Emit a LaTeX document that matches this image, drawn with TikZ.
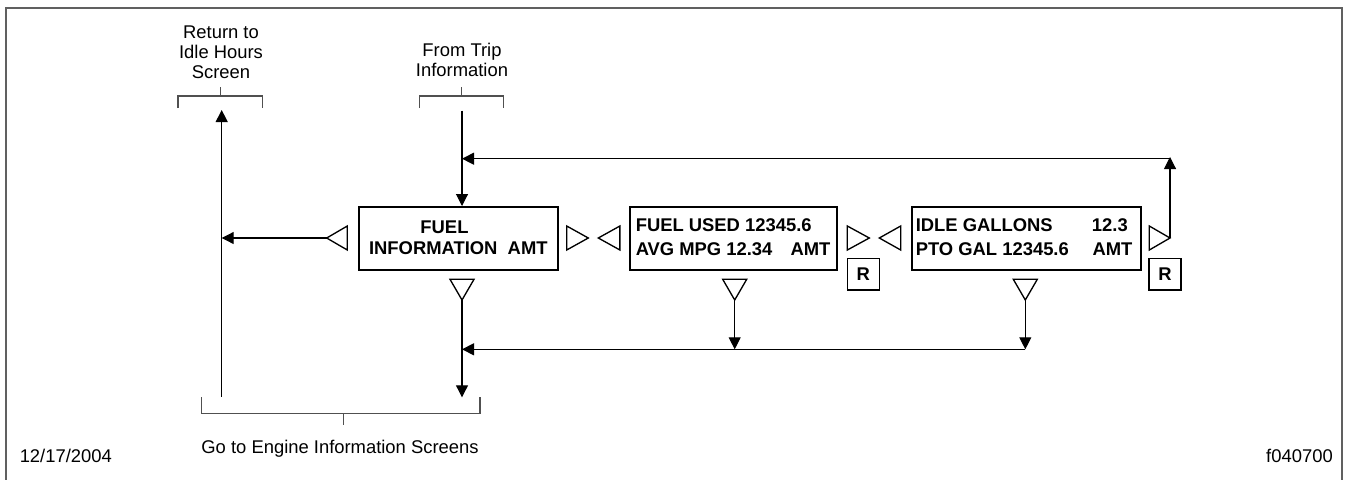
\documentclass[tikz,border=0pt]{standalone}
\usepackage{fontspec}
\setmainfont{Liberation Sans}
\usetikzlibrary{arrows.meta}
\definecolor{framegray}{HTML}{606060}
\definecolor{brkgray}{HTML}{505050}
\begin{document}
\begin{tikzpicture}[x=0.75pt,y=-0.75pt,
  conn/.style={line width=0.8pt,draw=black},
  arr/.style={conn,-{Triangle[length=9pt,width=9pt]}},
  boxst/.style={draw=black,line width=1.5pt,inner sep=0pt,anchor=north west,minimum height=47.5pt},
  rbox/.style={draw=black,line width=1.2pt,inner sep=0pt,minimum width=24pt,minimum height=23.8pt,font=\fontsize{13.8pt}{15pt}\selectfont\bfseries},
  trist/.style={draw=black,line width=1pt,line join=miter},
  brk/.style={draw=brkgray,line width=0.8pt},
  framest/.style={draw=framegray,line width=1.5pt},
  lbl/.style={inner sep=0pt,align=center,font=\fontsize{13.8pt}{15pt}\selectfont},
  bt/.style={inner sep=0pt,anchor=west,font=\fontsize{13.8pt}{15pt}\selectfont\bfseries},
  nt/.style={inner sep=0pt,font=\fontsize{13.8pt}{15pt}\selectfont}]
\useasboundingbox (0,0) rectangle (1349,479);
% frame
\draw[framest] (6,480) -- (6,8) -- (1341.5,8) -- (1341.5,480);

% top labels and brackets
\node[lbl] (retlbl) at (221,52) {Return to\\Idle Hours\\Screen};
\node[lbl] (triplbl) at (462,60) {From Trip\\Information};
\draw[brk] (178,108) -- (178,96) -- (262.7,96) -- (262.7,108);
\draw[brk] (220.7,87) -- (220.7,96);
\draw[brk] (419.3,108) -- (419.3,96) -- (503.7,96) -- (503.7,108);
\draw[brk] (461.7,87) -- (461.7,96);

% bottom bracket and labels
\draw[brk] (201.7,397) -- (201.7,413.3) -- (480,413.3) -- (480,397);
\draw[brk] (343.3,413.3) -- (343.3,425);
\node[nt] (englbl) at (340,448.3) {Go to Engine Information Screens};
\node[nt,anchor=west] (date) at (19.5,456) {12/17/2004};
\node[nt,anchor=east] (fig) at (1333,456) {f040700};

% screen boxes
\node[boxst,minimum width=148.8pt] (b1) at (358.3,206) {};
\node[bt] (b1a) at (420.2,227) {FUEL};
\node[bt] (b1b) at (368.8,248.3) {INFORMATION\hspace{0.556em}AMT};

\node[boxst,minimum width=154.8pt] (b2) at (629.3,206) {};
\node[bt] (b2a) at (635.5,225) {FUEL USED 12345.6};
\node[bt] (b2b) at (635.5,249.3) {AVG MPG 12.34};
\node[bt] (b2c) at (790.3,249.3) {AMT};

\node[boxst,minimum width=172pt] (b3) at (910.7,206) {};
\node[bt] (b3a) at (915.5,225) {IDLE GALLONS};
\node[bt] (b3b) at (1091.7,225) {12.3};
\node[bt] (b3c) at (915.5,249.3) {PTO GAL 12345.6};
\node[bt] (b3d) at (1092.3,249.3) {AMT};

% R keys
\node[rbox] (r1) at (863.3,274.2) {R};
\node[rbox] (r2) at (1164.9,274.2) {R};

% hollow key triangles (tips named)
\coordinate (t1l) at (326.7,238);
\draw[trist] (t1l) -- ++(20.6,-12) -- ++(0,24) -- cycle;
\coordinate (t1r) at (588.3,238);
\draw[trist] (t1r) -- ++(-21.6,-12) -- ++(0,24) -- cycle;
\coordinate (t2l) at (598.3,238);
\draw[trist] (t2l) -- ++(21.6,-12) -- ++(0,24) -- cycle;
\coordinate (t2r) at (869.3,238);
\draw[trist] (t2r) -- ++(-22,-12) -- ++(0,24) -- cycle;
\coordinate (t3l) at (879.3,238);
\draw[trist] (t3l) -- ++(21.4,-12) -- ++(0,24) -- cycle;
\coordinate (t3r) at (1170,238);
\draw[trist] (t3r) -- ++(-20.7,-12) -- ++(0,24) -- cycle;
\coordinate (d1) at (462,300);
\draw[trist] (d1) -- ++(-12,-20.7) -- ++(24,0) -- cycle;
\coordinate (d2) at (734.7,300);
\draw[trist] (d2) -- ++(-12,-20.7) -- ++(24,0) -- cycle;
\coordinate (d3) at (1025.3,300);
\draw[trist] (d3) -- ++(-12,-20.7) -- ++(24,0) -- cycle;

% connector points
\coordinate (ft) at (462,110.7);
\coordinate (rettop) at (221.7,110);
\coordinate (retbot) at (221.7,396.7);
\coordinate (retjoin) at (221.7,238);
\coordinate (loopc) at (1170,157);
\coordinate (topjoin) at (462,158.7);
\coordinate (botjoin) at (462,349.3);
\coordinate (engbot) at (462,397.3);

% connectors
\draw[arr] (ft) -- (ft |- b1.north);
\draw[arr] (retbot) -- (rettop);
\draw[arr] (t1l) -- (retjoin);
\draw[arr] (t3r) -- (loopc);
\draw[arr] (loopc |- topjoin) -- (topjoin);
\draw[arr] (d1) -- (engbot);
\draw[arr] (d2) -- (d2 |- botjoin);
\draw[arr] (d3) -- (d3 |- botjoin);
\draw[arr] (d3 |- botjoin) -- (botjoin);
\end{tikzpicture}
\end{document}
